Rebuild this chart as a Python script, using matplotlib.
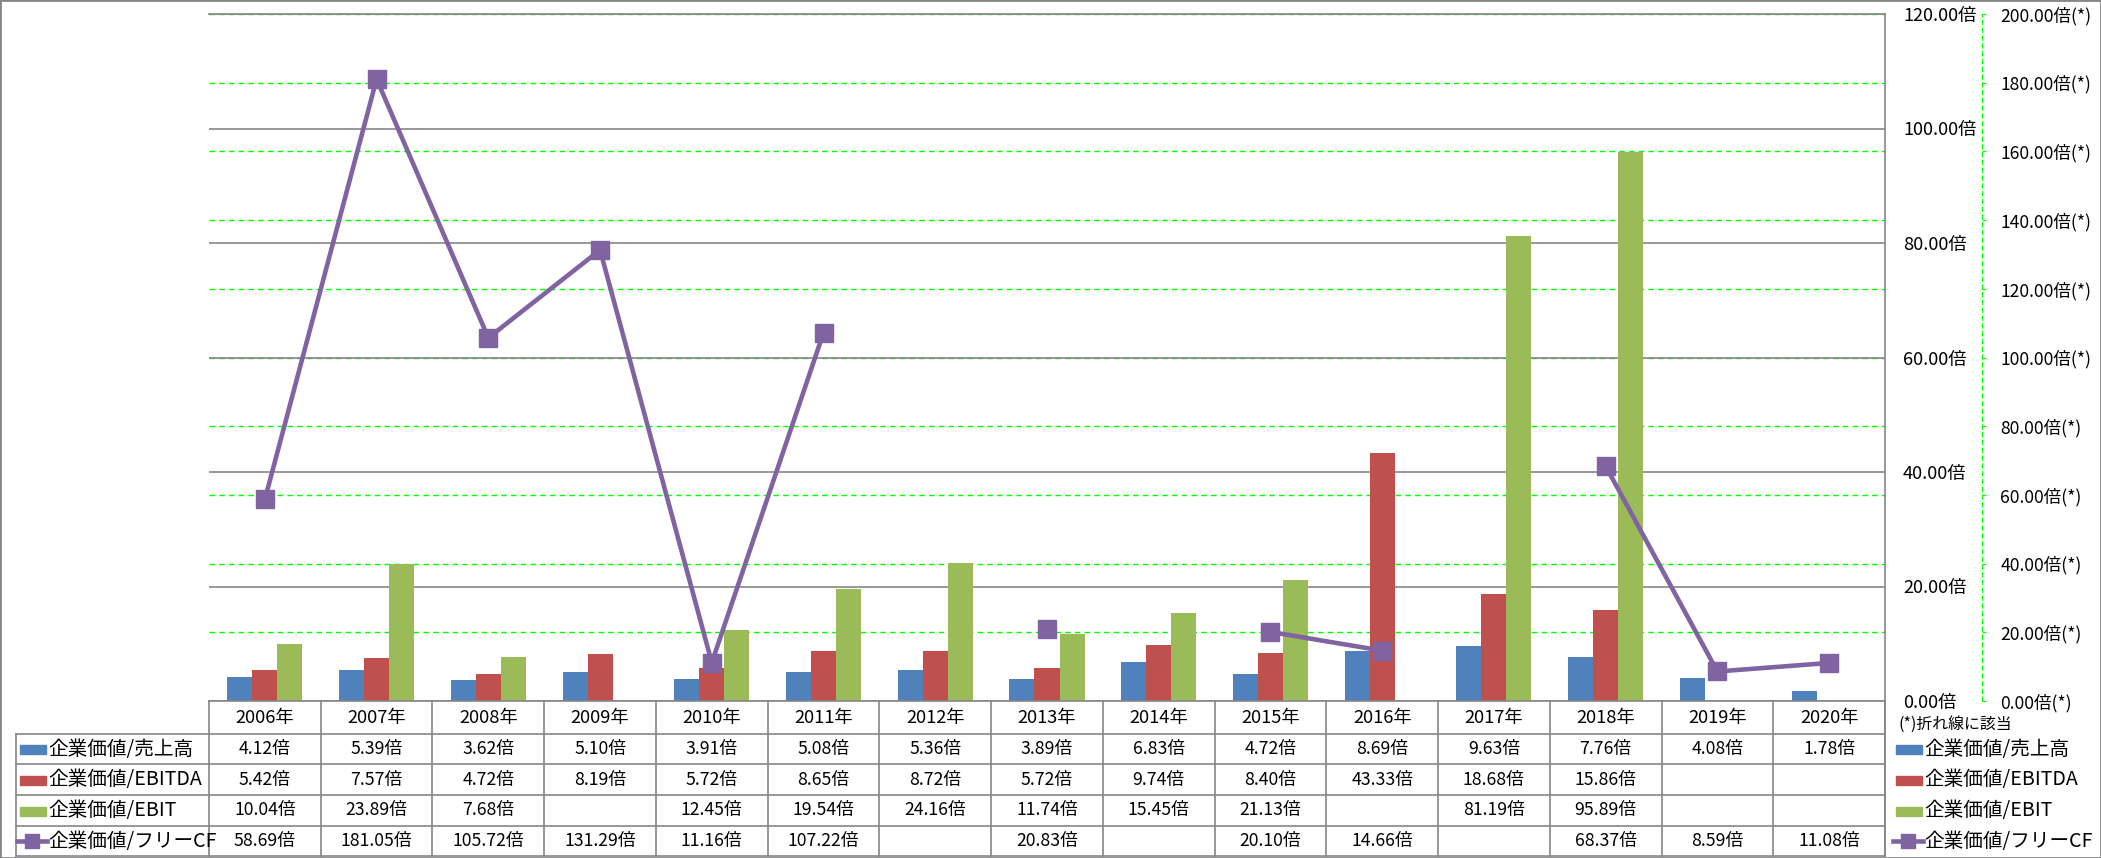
import numpy as np
import matplotlib.pyplot as plt
from matplotlib.transforms import blended_transform_factory
from matplotlib.lines import Line2D
from matplotlib.patches import Rectangle

plt.rcParams['font.family'] = ['Noto Sans CJK JP', 'DejaVu Sans']

years = ['2006年', '2007年', '2008年', '2009年', '2010年', '2011年', '2012年', '2013年',
         '2014年', '2015年', '2016年', '2017年', '2018年', '2019年', '2020年']
nan = np.nan
sales = [4.12, 5.39, 3.62, 5.10, 3.91, 5.08, 5.36, 3.89, 6.83, 4.72, 8.69, 9.63, 7.76, 4.08, 1.78]
ebitda = [5.42, 7.57, 4.72, 8.19, 5.72, 8.65, 8.72, 5.72, 9.74, 8.40, 43.33, 18.68, 15.86, nan, nan]
ebit = [10.04, 23.89, 7.68, nan, 12.45, 19.54, 24.16, 11.74, 15.45, 21.13, nan, 81.19, 95.89, nan, nan]
fcf = [58.69, 181.05, 105.72, 131.29, 11.16, 107.22, nan, 20.83, nan, 20.10, 14.66, nan, 68.37, 8.59, 11.08]

names = ['企業価値/売上高', '企業価値/EBITDA', '企業価値/EBIT', '企業価値/フリーCF']
colors = ['#4F81BD', '#C0504D', '#9BBB59', '#8064A2']
left_ticks = [0, 20, 40, 60, 80, 100, 120]
right_ticks = [0, 20, 40, 60, 80, 100, 120, 140, 160, 180, 200]

W, H = 2101, 858
fig = plt.figure(figsize=(W / 100, H / 100), dpi=100)
renderer = fig.canvas.get_renderer()

def fx(px):
    return px / W

def fy(py):
    return 1 - py / H

def fit(s, px):
    # font size giving a text width of px pixels
    t = fig.text(0, 0, s, fontsize=10)
    wpx = t.get_window_extent(renderer).width
    t.remove()
    return 10 * px / wpx

fs_num = fit('181.05倍', 72)
fs_year = fit('2006年', 59)
fs_lab = fit('企業価値/売上高', 145)
fs_tick = fit('120.00倍', 74)
fs_tick2 = fit('200.00倍(*)', 91)
fs_note = fit('(*)折れ線に該当', 113)

x0, x1, y0, y1 = 209, 1885, 14, 701
rect = [fx(x0), fy(y1), fx(x1) - fx(x0), fy(y0) - fy(y1)]
x = np.arange(len(years))

# secondary axis (behind): green grid + labels
axs = fig.add_axes(rect)
axs.set_ylim(0, 200)
axs.set_xlim(-0.5, len(years) - 0.5)
axs.set_yticks(right_ticks)
axs.set_yticklabels(['%.2f倍(*)' % v for v in right_ticks])
axs.yaxis.tick_right()
axs.set_xticks([])
axs.grid(axis='y', color='#00FF00', linestyle=(0, (4, 3)), linewidth=1)
for s in ['left', 'top', 'bottom']:
    axs.spines[s].set_visible(False)
axs.spines['right'].set_position(('outward', 70))
axs.spines['right'].set_color('#00FF00')
axs.spines['right'].set_linestyle((0, (4, 3)))
axs.tick_params(axis='y', colors='#00FF00', length=3, pad=10, labelcolor='black', labelsize=fs_tick2)

# primary axis: bars
ax = fig.add_axes(rect)
ax.patch.set_visible(False)
ax.set_ylim(0, 120)
ax.set_xlim(-0.5, len(years) - 0.5)
ax.set_yticks(left_ticks)
ax.set_yticklabels(['%.2f倍' % v for v in left_ticks])
ax.yaxis.tick_right()
ax.tick_params(axis='y', length=0, pad=13, labelsize=fs_tick)
ax.set_xticks([])
ax.set_axisbelow(True)
ax.grid(axis='y', color='#868686', linewidth=1.2)
ax.spines['left'].set_visible(False)
for s in ['right', 'bottom', 'top']:
    ax.spines[s].set_color('#868686')
    ax.spines[s].set_linewidth(1.2)
w = 0.224
for k, vals in enumerate([sales, ebitda, ebit]):
    ax.bar(x + (k - 1) * w, vals, w, color=colors[k], zorder=2)

# line on top
axl = fig.add_axes(rect, sharex=axs)
axl.set_ylim(0, 200)
axl.axis('off')
axl.plot(x, fcf, color=colors[3], lw=3.3, marker='s', markersize=12.5, zorder=3)

# table
grey = '#868686'
rows_y = [701, 734, 764, 795, 826, 856]
trans = blended_transform_factory(ax.transData, fig.transFigure)
bounds = np.arange(len(years) + 1) - 0.5
for b in bounds:
    fig.add_artist(Line2D([b, b], [fy(701), fy(856)], transform=trans, color=grey, lw=1.2))
for ry in rows_y[1:]:
    fig.add_artist(Line2D([fx(16), fx(x1)], [fy(ry), fy(ry)], transform=fig.transFigure, color=grey, lw=1.2))
fig.add_artist(Line2D([fx(16), fx(16)], [fy(734), fy(856)], transform=fig.transFigure, color=grey, lw=1.2))
fig.add_artist(Line2D([fx(x1), fx(x1)], [fy(y1), fy(856)], transform=fig.transFigure, color=grey, lw=1.2))

for i, yr in enumerate(years):
    fig.text(i, fy(718), yr, transform=trans, ha='center', va='center', fontsize=fs_year)
for r, vals in enumerate([sales, ebitda, ebit, fcf]):
    cy = fy((rows_y[r + 1] + rows_y[r + 2]) / 2)
    for i, v in enumerate(vals):
        if not np.isnan(v):
            fig.text(i, cy, '%.2f倍' % v, transform=trans, ha='center', va='center', fontsize=fs_num)
    # row header + right legend
    for kx, tx in [(20, 48), (1896, 1924)]:
        if r < 3:
            fig.add_artist(Rectangle((fx(kx), cy - 5 / H), 26 / W, 9 / H, transform=fig.transFigure,
                                     color=colors[r]))
        else:
            fig.add_artist(Line2D([fx(kx - 3), fx(kx + 27)], [cy, cy], transform=fig.transFigure,
                                  color=colors[3], lw=3.3))
            fig.add_artist(Line2D([fx(kx + 12)], [cy], transform=fig.transFigure, color=colors[3],
                                  marker='s', markersize=9.5))
        fig.text(fx(tx), cy, names[r], ha='left', va='center', fontsize=fs_lab)

fig.text(fx(1899), fy(724), '(*)折れ線に該当', ha='left', va='center', fontsize=fs_note)

# outer border
fig.add_artist(Rectangle((0, 0), 1, 1, transform=fig.transFigure, fill=False, edgecolor=grey, lw=2))

fig.savefig('out.png', dpi=100)
